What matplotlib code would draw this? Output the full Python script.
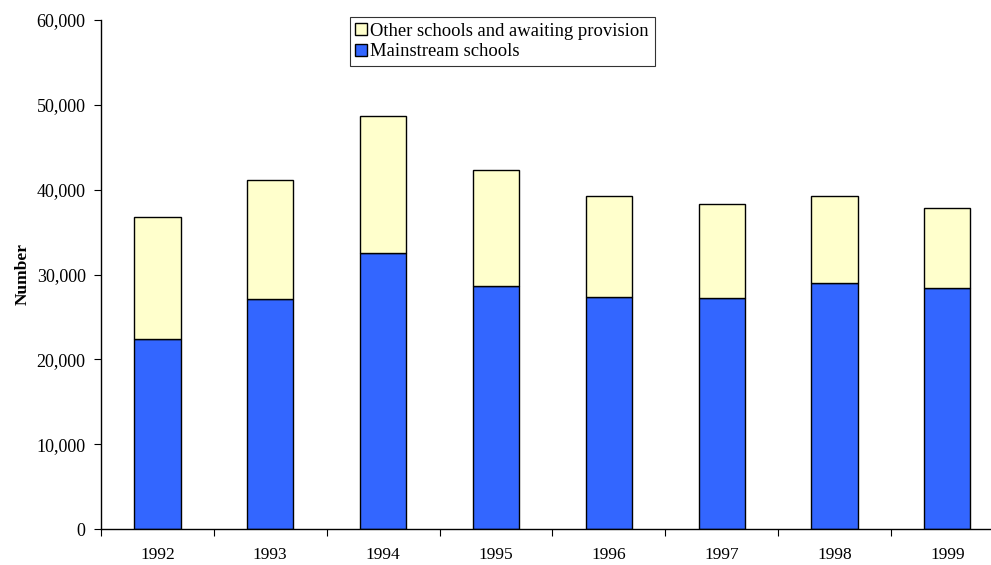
import matplotlib.pyplot as plt
from matplotlib.ticker import FuncFormatter

# values
years = ["1992", "1993", "1994", "1995", "1996", "1997", "1998", "1999"]
mainstream = [22400, 27100, 32550, 28650, 27350, 27200, 29000, 28400]
totals = [36800, 41150, 48700, 42350, 39200, 38300, 39200, 37800]
other = [t - m for t, m in zip(totals, mainstream)]

plt.rcParams['font.family'] = ['Liberation Serif', 'DejaVu Serif']

fig = plt.figure(figsize=(9.91, 5.65), dpi=100)
ax = fig.add_axes([0.1019, 0.0637, 0.911, 0.9009])

x = list(range(len(years)))
b1 = ax.bar(x, mainstream, width=0.41, color="#3366ff", edgecolor="black",
            linewidth=1, label="Mainstream schools")
b2 = ax.bar(x, other, bottom=mainstream, width=0.41, color="#ffffcc",
            edgecolor="black", linewidth=1,
            label="Other schools and awaiting provision")

ax.set_xlim(-0.5, 7.5)
ax.set_ylim(0, 60000)
ax.set_yticks(range(0, 60001, 10000))
ax.yaxis.set_major_formatter(FuncFormatter(lambda v, p: f"{int(v):,}"))

# category ticks sit between the bars, labels centred under them
ax.set_xticks([i + 0.5 for i in x[:-1]] + [-0.5])
ax.set_xticklabels([])
ax.set_xticks(x, minor=True)
ax.set_xticklabels(years, minor=True)
ax.tick_params(axis="x", which="minor", length=0, pad=13, labelsize=12.5)
ax.tick_params(axis="x", which="major", length=5, direction="out")
ax.tick_params(axis="y", length=5, direction="out", labelsize=13, pad=6)

for s in ["top", "right"]:
    ax.spines[s].set_visible(False)
ax.spines["left"].set_linewidth(1)
ax.spines["bottom"].set_linewidth(1)

ax.set_ylabel("Number", fontsize=12.5, fontweight="bold", labelpad=4)

leg = ax.legend(handles=[b2, b1], loc="upper left",
                bbox_to_anchor=(0.353, 0.970), bbox_transform=fig.transFigure,
                borderaxespad=0, fancybox=False, frameon=True, fontsize=13.4,
                handlelength=0.6, handleheight=0.6, handletextpad=0.2,
                labelspacing=0.2, borderpad=0.3)
leg.get_frame().set_edgecolor("black")
leg.get_frame().set_linewidth(0.8)

fig.savefig("out.png", dpi=100)
